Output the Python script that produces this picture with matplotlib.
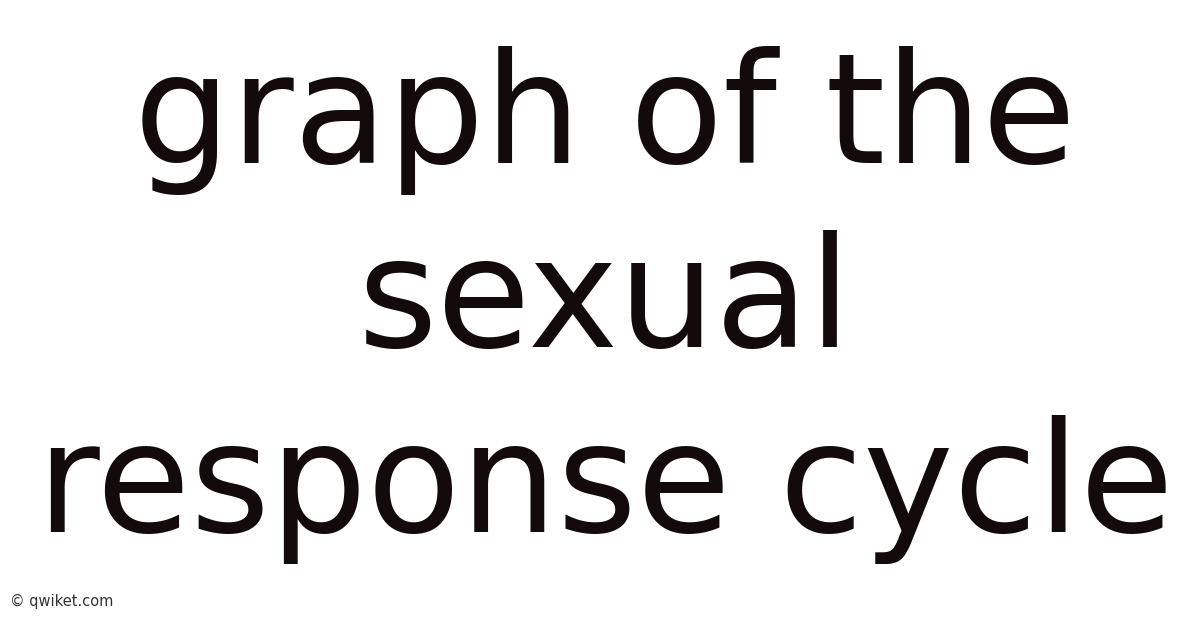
#Import modules
import matplotlib
matplotlib.use('Agg')
import matplotlib.pyplot as plt

#Text content
title_lines = ['graph of the', 'sexual', 'response cycle']
credit = '\u00a9 qwiket.com'

#Figure setup
W, H = 1200, 628
fig = plt.figure(figsize = (W / 100, H / 100), dpi = 100)
fig.patch.set_facecolor('white')

#Big centred title lines, baselines in pixels from the top
baselines = [163, 347, 532]
for line, base in zip(title_lines, baselines):
    fig.text(605 / W, 1 - base / H, line, ha = 'center', va = 'baseline',
             fontsize = 110, family = 'DejaVu Sans', color = '#130b0b')

#Small credit bottom left
fig.text(10 / W, 1 - 606 / H, credit, ha = 'left', va = 'baseline',
         fontsize = 10.5, family = 'DejaVu Sans', color = '#333333')

plt.savefig('out.png', dpi = 100, facecolor = 'white')
